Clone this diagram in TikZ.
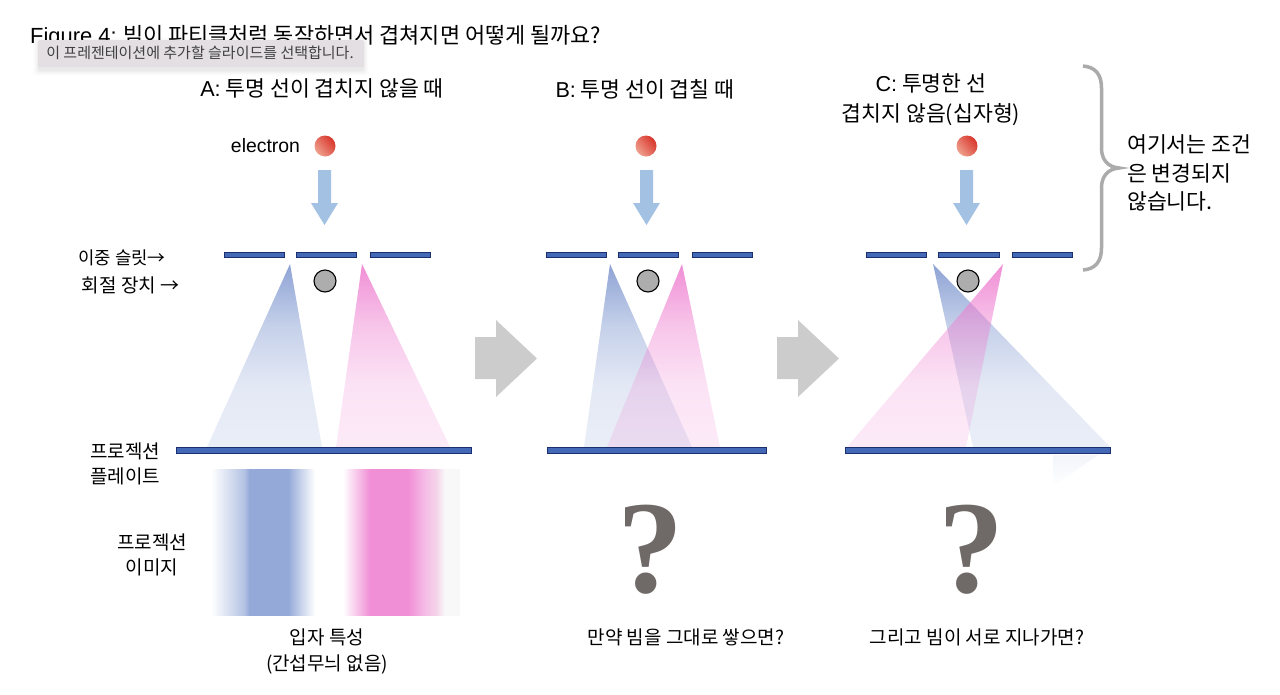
\documentclass[tikz,border=0pt]{standalone}
\usepackage{fontspec}
\setmainfont{Liberation Sans}
\newfontfamily\kr{Noto Sans CJK KR}
\newfontfamily\qf{Liberation Serif}
\usetikzlibrary{fadings}
\definecolor{slitfill}{HTML}{4369B6}
\definecolor{slitline}{HTML}{1B2F6E}
\definecolor{beamblue}{HTML}{7F97CF}
\definecolor{beampink}{HTML}{EE7FD0}
\definecolor{arrowblue}{HTML}{A3C1E2}
\definecolor{biggray}{HTML}{CCCCCC}
\definecolor{qgray}{HTML}{6F6A68}
\definecolor{bracegray}{HTML}{ABABAB}
\definecolor{tipfill}{HTML}{E4DFE3}
\definecolor{pb}{HTML}{94A9D8}
\definecolor{pp}{HTML}{F08FD6}
\definecolor{pl}{HTML}{F5D5EA}
\definecolor{pw}{HTML}{F8F8F8}
\definecolor{redlight}{HTML}{EFA08E}
\definecolor{reddark}{HTML}{D8352B}
\pgfdeclarehorizontalshading{blueband}{100bp}{color(0bp)=(white);color(25bp)=(white);color(41bp)=(pb!70);color(43.5bp)=(pb);color(62bp)=(pb);color(75bp)=(white);color(100bp)=(white)}
\pgfdeclarehorizontalshading{pinkband}{100bp}{color(0bp)=(white);color(25bp)=(white);color(36.5bp)=(pp);color(52.7bp)=(pp);color(59bp)=(pp!65);color(65bp)=(pl);color(68.5bp)=(pw);color(75bp)=(pw);color(100bp)=(pw)}
\pgfdeclareverticalshading{beamramp}{100bp}{color(0bp)=(transparent!84);color(25bp)=(transparent!84);color(42bp)=(transparent!78);color(58bp)=(transparent!55);color(67bp)=(transparent!32);color(75bp)=(transparent!12);color(100bp)=(transparent!12)}
\pgfdeclarefading{beamfade}{\pgfuseshading{beamramp}}
\tikzfading[name=faintfade, top color=transparent!90, bottom color=transparent!100]
\tikzset{
  txt/.style={inner sep=0pt,text=black,font=\kr\fontsize{21.6}{30}\selectfont,align=center},
  small/.style={inner sep=0pt,text=black,font=\kr\fontsize{19}{25.5}\selectfont,align=center},
  slitbar/.style={fill=slitfill,draw=slitline,line width=0.8pt},
  beamb/.style={fill=beamblue,path fading=beamfade},
  beamp/.style={fill=beampink,path fading=beamfade},
  grayball/.style={circle,minimum size=22pt,inner sep=0pt,fill=black!32,draw=black,line width=1.1pt},
  redball/.style={circle,minimum size=21pt,inner sep=0pt,top color=reddark,bottom color=redlight,shading angle=-50},
  bluearrow/.style={fill=arrowblue},
  bigarrow/.style={fill=biggray},
  qmark/.style={inner sep=0pt,text=qgray,font=\qf\bfseries\fontsize{132}{132}\selectfont},
}
\begin{document}
\begin{tikzpicture}[x=1pt,y=-1pt]
\useasboundingbox (0,0) rectangle (1280,694);
% title
\node[txt,anchor=base west] (title) at (30,43) {{\rmfamily\fontsize{21.9}{26}\selectfont Figure 4:} \fontsize{21.9}{26}\selectfont 빔이 파티클처럼 동작하면서 겹쳐지면 어떻게 될까요?};
% tooltip
\foreach \s/\o in {6/0.006,5/0.008,4/0.01,3/0.014,2/0.02,1/0.025}
  \fill[black,opacity=\o,rounded corners=3pt] (38-\s+1,40-\s+3) rectangle (364+\s-1,67+\s+3);
\fill[tipfill,rounded corners=1.5pt] (38,40) rectangle (364,67);
\node[inner sep=0pt,text=black!75,font=\kr\fontsize{15}{16}\selectfont] (tip) at (200,53) {이 프레젠테이션에 추가할 슬라이드를 선택합니다.};
% headings
\node[txt] (headA) at (322,88) {{\rmfamily A:} 투명 선이 겹치지 않을 때};
\node[txt] (headB) at (645,89) {{\rmfamily B:} 투명 선이 겹칠 때};
\node[txt] (headC) at (931,100) {{\rmfamily C:} 투명한 선\\겹치지 않음(십자형)};
% electrons
\node[inner sep=0pt,font=\fontsize{19.4}{22}\selectfont] (elec) at (265.5,146) {electron};
\node[redball] (ra) at (325,146) {};
\node[redball] (rb) at (646,146) {};
\node[redball] (rc) at (967,146) {};
% arrows
\foreach \c in {324.5,646.5,966.5}
  \fill[bluearrow] (\c-6.5,170) -- (\c+6.5,170) -- (\c+6.5,203) -- (\c+13.5,203) -- (\c,225) -- (\c-13.5,203) -- (\c-6.5,203) -- cycle;
% beams
\fill[beamb] (290,264) -- (322,447) -- (207,447) -- cycle;
\fill[beamp] (362,264) -- (450,447) -- (336,447) -- cycle;
\fill[beamb] (610,264) -- (692,447) -- (584,447) -- cycle;
\fill[beamp] (682,264) -- (720,447) -- (607,447) -- cycle;
\fill[beamb] (933,264) -- (1110,447) -- (973,447) -- cycle;
\fill[beamp] (1003,264) -- (966,447) -- (847,447) -- cycle;
% faint patch
\fill[beamblue,path fading=faintfade] (1053,455) -- (1098,455) -- (1053,487) -- cycle;
% slits
\foreach \a/\b in {224/284,296/356,370/430,546/606,618/678,692/752,866/926,938/999,1012/1072}
  \draw[slitbar] (\a,252.2) rectangle (\b,257.8);
% plates
\draw[slitbar] (176,447.3) rectangle (471,453.5);
\draw[slitbar] (547,447.3) rectangle (766,453.5);
\draw[slitbar] (845,447.3) rectangle (1110,453.5);
% diffractors
\node[grayball] (ga) at (325,281) {};
\node[grayball] (gb) at (648,281) {};
\node[grayball] (gc) at (968,281) {};
% big arrows
\foreach \c in {475,777}
  \fill[bigarrow] (\c,337) -- (\c+21,337) -- (\c+21,320) -- (\c+62,358.5) -- (\c+21,397) -- (\c+21,379) -- (\c,379) -- cycle;
% brace
\draw[bracegray,line width=3.5pt,line cap=butt] (1083,66) .. controls (1095,67) and (1101.5,74) .. (1101.5,88) -- (1101.5,148) .. controls (1101.5,160) and (1108,167) .. (1119,168) .. controls (1108,169) and (1101.5,176) .. (1101.5,188) -- (1101.5,248) .. controls (1101.5,262) and (1095,269) .. (1083,270);
\node[txt,anchor=north west,align=left,font=\kr\fontsize{21.6}{28.5}\selectfont] (note) at (1127,134.5) {여기서는 조건\\은 변경되지\\않습니다.};
% left labels
\node[small,font=\kr\fontsize{17.8}{25}\selectfont] (ls) at (122,257.5) {이중 슬릿→};
\node[small] (ld) at (130.5,285.5) {회절 장치 →};
\node[small] (lp) at (125,464) {프로젝션\\플레이트};
\node[small] (li) at (152,555) {프로젝션\\이미지};
% bands
\shade[shading=blueband] (211,469) rectangle (315,615);
\shade[shading=pinkband] (343,469) rectangle (460,615);
% question marks
\node[qmark] (qa) at (650,550) {?};
\node[qmark] (qb) at (971,550) {?};
% captions
\node[small] (ca) at (327,651.5) {입자 특성\\(간섭무늬 없음)};
\node[small] (cb) at (686,637) {만약 빔을 그대로 쌓으면?};
\node[small] (cc) at (977,637) {그리고 빔이 서로 지나가면?};
\end{tikzpicture}
\end{document}
